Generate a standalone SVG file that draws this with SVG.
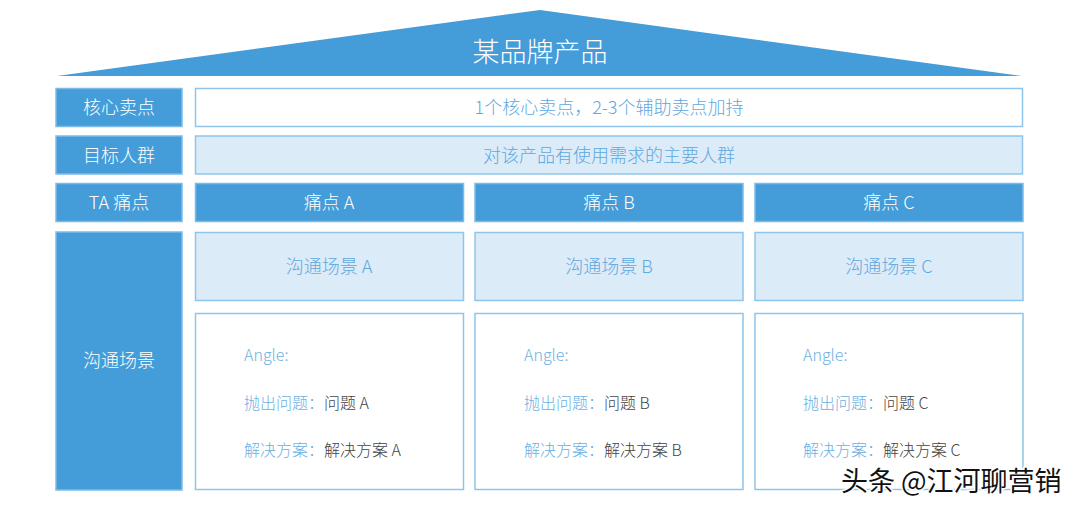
<svg xmlns="http://www.w3.org/2000/svg" width="1080" height="511" viewBox="0 0 1080 511">
<style>
text{font-family:"Noto Sans CJK SC","Liberation Sans",sans-serif;font-weight:300}
.solid{fill:#449cd9;stroke:#7dbbe7;stroke-width:1.5}
.light{fill:#dcebf8;stroke:#8ec5ec;stroke-width:1.5}
.white{fill:#ffffff;stroke:#8ec5ec;stroke-width:1.5}
.wt{fill:#ffffff;font-size:18px;text-anchor:middle}
.bt{fill:#5fa8de;font-size:18px;text-anchor:middle}
.lb{fill:#6db0e2;font-size:16px}
.dk{fill:#444444;font-size:16px}
</style>
<rect width="1080" height="511" fill="#ffffff"/>
<g id="roof">
<polygon points="57,76 540,10 1022,76" fill="#449cd9"/>
<text x="540" y="62" fill="#ffffff" font-size="27" text-anchor="middle">某品牌产品</text>
</g>
<g id="label-core">
<rect class="solid" x="56" y="88.5" width="126" height="38"/>
<text class="wt" x="119" y="114">核心卖点</text>
</g>
<g id="core-content">
<rect class="white" x="195.5" y="88.5" width="827" height="38"/>
<text class="bt" x="609" y="114">1个核心卖点，2-3个辅助卖点加持</text>
</g>
<g id="label-target">
<rect class="solid" x="56" y="136" width="126" height="38"/>
<text class="wt" x="119" y="162">目标人群</text>
</g>
<g id="target-content">
<rect class="light" x="195.5" y="136" width="827" height="38"/>
<text class="bt" x="609" y="162">对该产品有使用需求的主要人群</text>
</g>
<g id="label-pain">
<rect class="solid" x="56" y="183.5" width="126" height="38"/>
<text class="wt" x="119" y="209">TA 痛点</text>
</g>
<g id="pain-a">
<rect class="solid" x="195.5" y="183.5" width="268" height="38"/>
<text class="wt" x="329" y="209">痛点 A</text>
</g>
<g id="pain-b">
<rect class="solid" x="475" y="183.5" width="268" height="38"/>
<text class="wt" x="609" y="209">痛点 B</text>
</g>
<g id="pain-c">
<rect class="solid" x="755" y="183.5" width="268" height="38"/>
<text class="wt" x="889" y="209">痛点 C</text>
</g>
<g id="label-scene">
<rect class="solid" x="56" y="232" width="126" height="258"/>
<text class="wt" x="119" y="367">沟通场景</text>
</g>
<g id="scene-a">
<rect class="light" x="195.5" y="232.5" width="268" height="68"/>
<text class="bt" x="329" y="273">沟通场景 A</text>
</g>
<g id="scene-b">
<rect class="light" x="475" y="232.5" width="268" height="68"/>
<text class="bt" x="609" y="273">沟通场景 B</text>
</g>
<g id="scene-c">
<rect class="light" x="755" y="232.5" width="268" height="68"/>
<text class="bt" x="889" y="273">沟通场景 C</text>
</g>
<g id="detail-a">
<rect class="white" x="195.5" y="313.5" width="268" height="176"/>
<text class="lb" x="244" y="361">Angle:</text>
<text class="lb" x="244" y="409">抛出问题：<tspan class="dk">问题 A</tspan></text>
<text class="lb" x="244" y="456">解决方案：<tspan class="dk">解决方案 A</tspan></text>
</g>
<g id="detail-b">
<rect class="white" x="475" y="313.5" width="268" height="176"/>
<text class="lb" x="524" y="361">Angle:</text>
<text class="lb" x="524" y="409">抛出问题：<tspan class="dk">问题 B</tspan></text>
<text class="lb" x="524" y="456">解决方案：<tspan class="dk">解决方案 B</tspan></text>
</g>
<g id="detail-c">
<rect class="white" x="755" y="313.5" width="268" height="176"/>
<text class="lb" x="803" y="361">Angle:</text>
<text class="lb" x="803" y="409">抛出问题：<tspan class="dk">问题 C</tspan></text>
<text class="lb" x="803" y="456">解决方案：<tspan class="dk">解决方案 C</tspan></text>
</g>
<g id="connectors"></g>
<g id="watermark">
<text x="841" y="491" font-size="27" fill="#111111" stroke="#ffffff" stroke-width="3" paint-order="stroke" style="font-weight:400">头条 @江河聊营销</text>
</g>
</svg>
